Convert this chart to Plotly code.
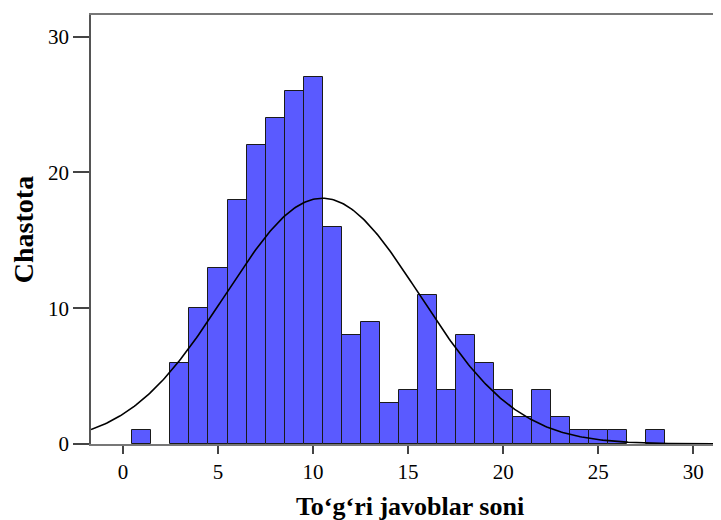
import numpy as np
import plotly.graph_objects as go

# Data
scores = [1, 3, 4, 5, 6, 7, 8, 9, 10, 11, 12, 13, 14, 15, 16, 17, 18, 19, 20, 21, 22, 23, 24, 25, 26, 28]
counts = [1, 6, 10, 13, 18, 22, 24, 26, 27, 16, 8, 9, 3, 4, 11, 4, 8, 6, 4, 2, 4, 2, 1, 1, 1, 1]
x_ticks = [0, 5, 10, 15, 20, 25, 30]
y_ticks = [0, 10, 20, 30]
x_title = "To‘g‘ri javoblar soni"
y_title = "Chastota"

# Normal curve fitted from data
xs = np.array(scores, dtype=float)
cs = np.array(counts, dtype=float)
n = cs.sum()
mean = (xs * cs).sum() / n
sd = np.sqrt(((xs - mean) ** 2 * cs).sum() / (n - 1))
x_range = [-1.68, 31.88]
cx = np.linspace(x_range[0], x_range[1], 400)
cy = n * 1.0 / (sd * np.sqrt(2 * np.pi)) * np.exp(-0.5 * ((cx - mean) / sd) ** 2)

fig = go.Figure()
fig.add_trace(go.Bar(
    x=scores, y=counts, width=1,
    marker=dict(color="#5a5aff", line=dict(color="#1a1a1a", width=1)),
    showlegend=False, hoverinfo="x+y",
))
fig.add_trace(go.Scatter(
    x=cx, y=cy, mode="lines",
    line=dict(color="black", width=1.6),
    showlegend=False, hoverinfo="skip",
))

serif = "Times New Roman, Liberation Serif, serif"
fig.update_layout(
    width=721, height=520,
    margin=dict(l=83, r=0, t=7, b=84),
    paper_bgcolor="white", plot_bgcolor="white",
    bargap=0,
    font=dict(family=serif, color="black", size=20),
)
fig.update_xaxes(
    range=x_range, tickvals=x_ticks, ticks="outside", ticklen=8, tickwidth=1.5,
    tickcolor="#444", showline=True, linecolor="#777", linewidth=1.5, mirror=True,
    showgrid=False, zeroline=False, automargin=False,
    tickfont=dict(size=21, family=serif, color="black"),
    title=dict(text="<b>" + x_title + "</b>", font=dict(size=26, family=serif, color="black"), standoff=14),
)
fig.update_yaxes(
    range=[0, 31.6], tickvals=y_ticks, ticks="outside", ticklen=16, tickwidth=1.5,
    tickcolor="#444", showline=True, linecolor="#555", linewidth=1.5,
    showgrid=False, zeroline=False, automargin=False,
    tickfont=dict(size=21, family=serif, color="black"),
    title=dict(text="<b>" + y_title + "</b>", font=dict(size=28, family=serif, color="black"), standoff=12),
)
fig.write_html("out.html")
